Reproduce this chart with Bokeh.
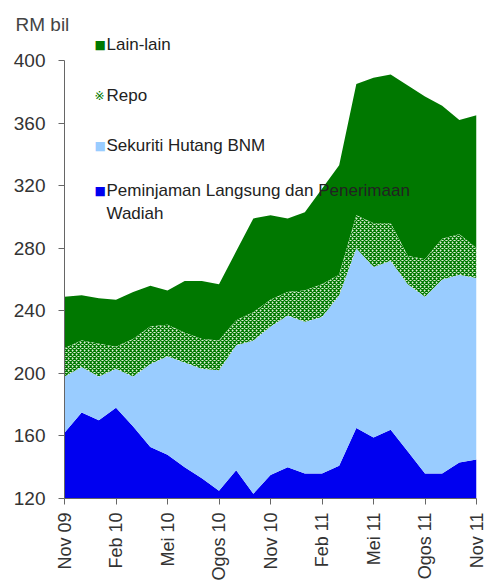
from bokeh.plotting import figure
from bokeh.models import Label, FixedTicker, Title
from bokeh.embed import file_html
from bokeh.resources import INLINE
import math

# months Nov 09 .. Nov 11
months = list(range(25))
tick_pos = [0, 3, 6, 9, 12, 15, 18, 21, 24]
tick_labels = ["Nov 09", "Feb 10", "Mei 10", "Ogos 10", "Nov 10", "Feb 11", "Mei 11", "Ogos 11", "Nov 11"]
y_ticks = [120, 160, 200, 240, 280, 320, 360, 400]

peminjaman = [162, 175, 170, 178, 166, 153, 148, 140, 133, 125, 138, 123, 135, 140, 136, 136, 141, 165, 159, 164, 150, 136, 136, 143, 145]
sekuriti = [36, 29, 28, 25, 32, 53, 63, 67, 70, 77, 80, 98, 95, 97, 97, 100, 109, 115, 109, 108, 107, 113, 124, 120, 116]
repo = [18, 17, 21, 14, 24, 24, 20, 19, 19, 19, 16, 18, 17, 15, 20, 21, 13, 21, 28, 24, 18, 24, 26, 26, 19]
lain = [33, 29, 29, 30, 30, 26, 22, 33, 37, 36, 44, 60, 54, 47, 50, 61, 70, 84, 93, 95, 109, 104, 85, 73, 85]

C_LAIN = "#007800"
C_SEK = "#99CCFF"
C_PEM = "#0000F0"

# frame: page x 64..476, page y 36..498 (value 400 at page y 60)
px_per_unit = 438 / 280
y_top = 120 + (498 - 36) / px_per_unit

p = figure(width=499, height=585, output_backend="svg", toolbar_location=None,
           x_range=(0, 24), y_range=(120, y_top),
           min_border_left=64, min_border_right=23, min_border_top=36, min_border_bottom=87)
p.outline_line_color = None
p.xgrid.visible = False
p.ygrid.visible = False

t = Title(text="RM bil", align="left", offset=-49, standoff=3, text_font="Liberation Sans",
          text_font_size="19px", text_color="#444444", text_font_style="normal")
p.add_layout(t, "above")

data = dict(x=months, pem=peminjaman, sek=sekuriti, repo=repo, lain=lain)
p.varea_stack(["pem", "sek", "repo", "lain"], x="x", source=data,
              color=[C_PEM, C_SEK, "#ffffff", C_LAIN])
lower = [a + b for a, b in zip(peminjaman, sekuriti)]
upper = [a + b for a, b in zip(lower, repo)]
p.varea(x=months, y1=lower, y2=upper, fill_color="#dff0d8", fill_alpha=1.0,
        hatch_pattern="x", hatch_color=C_LAIN, hatch_scale=4, hatch_weight=1.3)

for ax in (p.xaxis[0], p.yaxis[0]):
    ax.axis_line_color = "#666666"
    ax.major_tick_line_color = "#666666"
    ax.minor_tick_line_color = None
    ax.major_tick_out = 6
    ax.major_tick_in = 0
    ax.major_label_text_font = "Liberation Sans"
    ax.major_label_text_color = "#333333"

p.yaxis.major_label_text_font_size = "19px"
p.xaxis.major_label_text_font_size = "18px"
p.yaxis.ticker = FixedTicker(ticks=y_ticks)
p.yaxis.bounds = (120, 400)
p.yaxis.major_label_standoff = 13
p.xaxis.ticker = FixedTicker(ticks=tick_pos)
p.xaxis.major_label_overrides = {t: l for t, l in zip(tick_pos, tick_labels)}
p.xaxis.major_label_orientation = math.pi / 2
p.xaxis.major_label_standoff = 8

px_per_month = 412 / 24

def dx(page_x):
    return (page_x - 64) / px_per_month

def dy(page_y):
    return 120 + (498 - page_y) / px_per_unit

legend_items = [
    ("■", C_LAIN, "Lain-lain", 44),
    ("※", C_LAIN, "Repo", 95),
    ("■", C_SEK, "Sekuriti Hutang BNM", 145),
    ("■", C_PEM, "Peminjaman  Langsung dan Penerimaan", 190),
]
for sym, col, txt, yy in legend_items:
    p.add_layout(Label(x=dx(94), y=dy(yy), text=sym, text_color=col, text_font="DejaVu Sans",
                       text_font_size="12px", text_baseline="middle"))
    p.add_layout(Label(x=dx(106), y=dy(yy), text=txt, text_color="#222222",
                       text_font="Liberation Sans", text_font_size="17px", text_baseline="middle"))
p.add_layout(Label(x=dx(106), y=dy(213), text="Wadiah", text_color="#222222",
                   text_font="Liberation Sans", text_font_size="17px", text_baseline="middle"))

open("out.html", "w").write(file_html(p, INLINE))
